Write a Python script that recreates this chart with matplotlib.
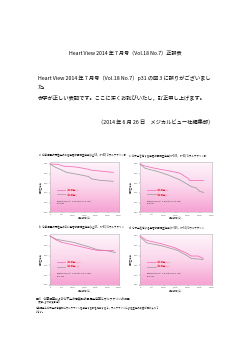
import numpy as np
import matplotlib
matplotlib.use('Agg')
from matplotlib import pyplot as plt
from matplotlib.colors import LinearSegmentedColormap

plt.rcParams['font.family'] = ['Noto Sans CJK JP', 'DejaVu Sans']

# survival curves (days, cumulative survival)
a_pos_days = [0, 360, 580, 1160, 1670, 1810, 2750]
a_pos_surv = [1.00, 0.99, 0.955, 0.935, 0.89, 0.87, 0.825]
a_neg_days = [0, 220, 435, 725, 1300, 1670, 1810, 2170, 2750]
a_neg_surv = [1.00, 0.935, 0.89, 0.825, 0.775, 0.74, 0.69, 0.66, 0.64]

b_pos_days = [0, 220, 510, 1170, 1900, 2190, 2770]
b_pos_surv = [1.00, 0.93, 0.87, 0.80, 0.72, 0.70, 0.70]
b_neg_days = [0, 290, 1020, 1750, 2040, 2480, 2840]
b_neg_surv = [1.00, 0.93, 0.87, 0.77, 0.72, 0.70, 0.66]

c_pos_days = [0, 140, 620, 1175, 1660, 2005, 2075, 2650]
c_pos_surv = [1.00, 0.965, 0.91, 0.86, 0.81, 0.70, 0.655, 0.655]
c_neg_days = [0, 210, 760, 1175, 1660, 2140, 2350, 2490, 2650]
c_neg_surv = [1.00, 0.91, 0.84, 0.77, 0.67, 0.53, 0.50, 0.43, 0.41]

d_pos_days = [0, 280, 900, 1450, 1935, 2140, 2420, 2630]
d_pos_surv = [1.00, 0.91, 0.84, 0.76, 0.65, 0.59, 0.59, 0.54]
d_neg_days = [0, 280, 900, 1550, 1990, 2140, 2630]
d_neg_surv = [0.98, 0.86, 0.80, 0.71, 0.59, 0.54, 0.52]

x_ticks = [0, 500, 1000, 1500, 2000, 2500, 3000]
x_labels = ['0', '500', '1,000', '1,500', '2,000', '2,500', '3,000']
y_ticks = [0.0, 0.2, 0.4, 0.6, 0.8, 1.0]
y_labels = ['0.00', '0.20', '0.40', '0.60', '0.80', '1.00']

panels = [
    ('a：心筋梗塞の既往症のある患者の累積生存率(μ≧65，n=40)でワルファリン群',
     a_pos_days, a_pos_surv, a_neg_days, a_neg_surv,
     ['心筋梗塞(+)', '心筋梗塞(-)'], 'PROBNEG/LR：0.443(0.257-0.767)\np=0.004'),
    ('b：心筋梗塞の既往症のない患者の累積生存率(μ≧65，n=61)でワルファリン',
     b_pos_days, b_pos_surv, b_neg_days, b_neg_surv,
     ['心筋梗塞(+/-)+', '心筋梗塞(+/-)-'], 'PROBNEG/LR：1.269(0.760-1.804)\np=0.362'),
    ('c：心不全を有する患者の累積生存率(n=105，n=61)でワルファリン群',
     c_pos_days, c_pos_surv, c_neg_days, c_neg_surv,
     ['心筋梗塞(+)', '心筋梗塞(-)'], 'PROBNEG/LR：0.540(0.427-0.862)\np=0.011'),
    ('d：心不全を有する患者の累積生存率(n=105，n=61)でワルファリン',
     d_pos_days, d_pos_surv, d_neg_days, d_neg_surv,
     ['心筋梗塞(+/-)+', '心筋梗塞(+/-)-'], 'PROBNEG/LR：1.079(0.609-1.180)\np=0.822'),
]
# axes boxes in figure fractions (left, bottom, width, height)
boxes = [
    [0.200, 0.399, 0.276, 0.142],
    [0.200, 0.193, 0.276, 0.144],
    [0.560, 0.399, 0.288, 0.142],
    [0.560, 0.193, 0.288, 0.144],
]

fig = plt.figure(figsize=(2.5, 3.53), dpi=100)
fig.patch.set_facecolor('white')

fs = 3.8
fig.text(0.5, 0.848, 'Heart View 2014 年 7 月号（Vol.18 No.7）正誤表',
         ha='center', va='center', fontsize=3.7)
fig.text(0.152, 0.778, 'Heart View 2014 年 7 月号（Vol.18 No.7）p31 の図 3 に誤りがございまし',
         ha='left', va='center', fontsize=fs)
fig.text(0.152, 0.751, 'た。', ha='left', va='center', fontsize=fs)
fig.text(0.152, 0.725, '赤字が正しい表記です。ここに深くお詫びいたし，訂正申し上げます。',
         ha='left', va='center', fontsize=fs)
fig.text(0.852, 0.654, '（2014 年 6 月 26 日　メジカルビュー社編集部）',
         ha='right', va='center', fontsize=fs)

pink_map = LinearSegmentedColormap.from_list('pk', ['#f6a2d2', '#fbd6ec', '#fef4fa'])
grad = np.linspace(0, 1, 100).reshape(-1, 1)

for (title, pd_, ps, nd, ns, leg, stat), box in zip(panels, boxes):
    ax = fig.add_axes(box)
    ax.imshow(grad, extent=[0, 1, 0, 1], transform=ax.transAxes, origin='lower',
              cmap=pink_map, aspect='auto', zorder=0)
    ax.plot(pd_, ps, color='#f26bb5', lw=0.55, zorder=3)
    ax.plot(nd, ns, color='#9a9a9a', lw=0.55, zorder=2)
    ax.set_xlim(0, 3000)
    ax.set_ylim(0, 1.04)
    ax.set_xticks(x_ticks)
    ax.set_xticklabels(x_labels)
    ax.set_yticks(y_ticks)
    ax.set_yticklabels(y_labels)
    ax.tick_params(labelsize=1.6, length=0.8, width=0.3, pad=0.8, colors='#666666')
    for s in ax.spines.values():
        s.set_color('#b8b8b8')
        s.set_linewidth(0.4)
    ax.set_xlabel('観察期間(日)', fontsize=1.7, labelpad=0.6, color='#444444')
    ax.set_ylabel('累積生存率', fontsize=1.7, labelpad=0.6, color='#444444')
    ax.text(-0.16, 1.1, title, transform=ax.transAxes, fontsize=1.8,
            ha='left', va='bottom')
    # legend
    ax.plot([0.1, 0.22], [0.45, 0.45], transform=ax.transAxes, color='#f26bb5', lw=0.5)
    ax.plot([0.1, 0.22], [0.36, 0.36], transform=ax.transAxes, color='#9a9a9a', lw=0.5)
    ax.text(0.24, 0.45, leg[0], transform=ax.transAxes, fontsize=1.6,
            color='#e8202a', va='center')
    ax.text(0.24, 0.36, leg[1], transform=ax.transAxes, fontsize=1.6,
            color='#e8202a', va='center')
    ax.text(0.1, 0.2, stat, transform=ax.transAxes, fontsize=1.6,
            va='center', linespacing=1.3, color='#333333')

fig.text(0.144, 0.156, '図3　心筋梗塞および心不全の有無別の累積生存率とワルファリンの効果',
         ha='left', va='center', fontsize=2.1)
fig.text(0.144, 0.145, '（文献5より改変引用）', ha='left', va='center', fontsize=1.7)
fig.text(0.144, 0.128, '心筋梗塞と心不全の有無別にワルファリンを投与する群を比較すると，ワルファリンによる生存の改善が認められて',
         ha='left', va='center', fontsize=1.7)
fig.text(0.144, 0.117, 'いない。', ha='left', va='center', fontsize=1.7)

fig.savefig('out.png', dpi=100)
